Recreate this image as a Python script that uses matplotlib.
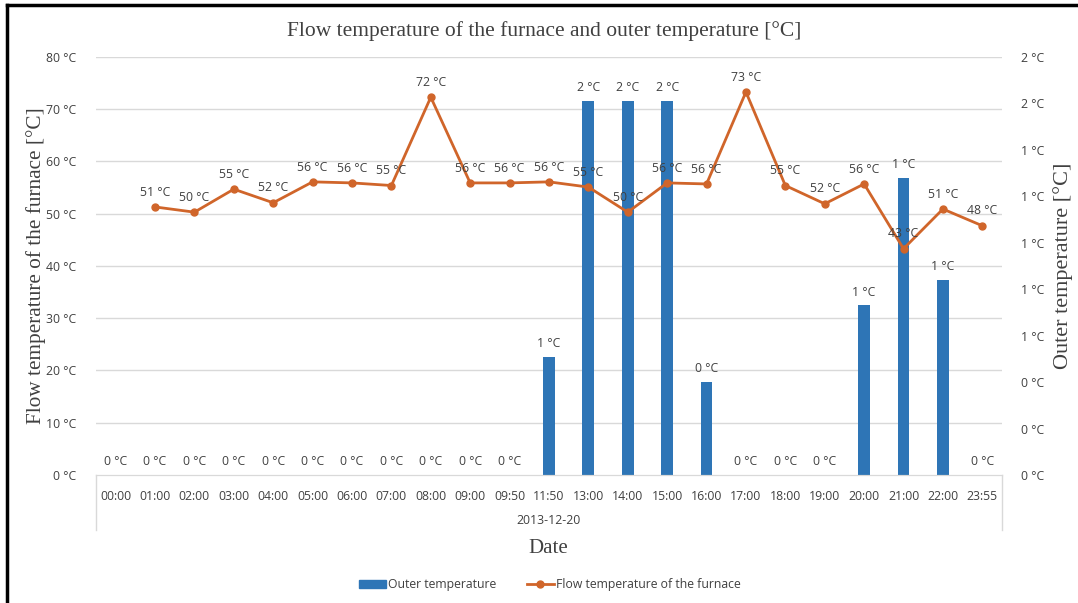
import math
import numpy as np
import matplotlib
matplotlib.use("Agg")
import matplotlib.pyplot as plt
from matplotlib.lines import Line2D
from matplotlib.ticker import FuncFormatter, MultipleLocator

times = ["00:00", "01:00", "02:00", "03:00", "04:00", "05:00", "06:00", "07:00",
         "08:00", "09:00", "09:50", "11:50", "13:00", "14:00", "15:00", "16:00",
         "17:00", "18:00", "19:00", "20:00", "21:00", "22:00", "23:55"]
date_label = "2013-12-20"
outer_temp = [0, 0, 0, 0, 0, 0, 0, 0, 0, 0, 0, 0.51, 1.61, 1.61, 1.61, 0.40,
              0, 0, 0, 0.73, 1.28, 0.84, 0]
flow_temp = [np.nan, 51.3, 50.3, 54.7, 52.1, 56.1, 55.9, 55.4, 72.3, 55.9, 55.9,
             56.1, 55.1, 50.3, 55.9, 55.7, 73.3, 55.4, 51.9, 55.7, 43.3, 50.9, 47.7]

blue = "#2E75B6"
orange = "#D0652A"
txt = "#404040"
tick_font = "Open Sans"
serif = "Liberation Serif"
fs = 8.8


def rnd(v):
    # Excel style rounding (half up)
    return int(math.floor(v + 0.5 + 1e-9))


fig = plt.figure(figsize=(10.78, 6.03), dpi=100)
ax_bar = fig.add_axes([0.089, 0.2123, 0.8405, 0.6932])
ax_line = ax_bar.twinx()
ax_line.set_zorder(ax_bar.get_zorder() + 1)
ax_line.patch.set_visible(False)

x = np.arange(len(times))
ax_bar.set_ylim(0, 1.8)
ax_bar.set_xlim(-0.5, len(times) - 0.5)
# gridlines follow the left axis (0..80 step 10) but sit behind the bars
for g in np.arange(10, 81, 10):
    ax_bar.axhline(g / 80 * 1.8, color="#D9D9D9", lw=1, zorder=0)
ax_bar.bar(x, outer_temp, width=0.3, color=blue, zorder=2)
ax_bar.yaxis.set_major_locator(MultipleLocator(0.2))
ax_bar.yaxis.set_major_formatter(FuncFormatter(lambda v, p: f"{rnd(v)} °C"))
ax_bar.yaxis.tick_right()
ax_bar.yaxis.set_label_position("right")

for xi, v in zip(x, outer_temp):
    ax_bar.annotate(f"{rnd(v)} °C", (xi, v), xytext=(0, 5), textcoords="offset points",
                    ha="center", va="bottom", fontsize=fs, color=txt, family=tick_font)

ax_line.plot(x, flow_temp, color=orange, lw=2, marker="o", ms=5)
ax_line.set_ylim(0, 80)
ax_line.yaxis.set_major_locator(MultipleLocator(10))
ax_line.yaxis.set_major_formatter(FuncFormatter(lambda v, p: f"{int(v)} °C"))
ax_line.yaxis.tick_left()
ax_line.yaxis.set_label_position("left")
for xi, v in zip(x, flow_temp):
    if np.isnan(v):
        continue
    ax_line.annotate(f"{rnd(v)} °C", (xi, v), xytext=(0, 6), textcoords="offset points",
                     ha="center", va="bottom", fontsize=fs, color=txt, family=tick_font)

for a in (ax_bar, ax_line):
    for s in ("top", "left", "right"):
        a.spines[s].set_visible(False)
    a.spines["bottom"].set_color("#D9D9D9")
    a.tick_params(axis="y", length=0, labelsize=fs, labelcolor=txt, pad=14)
    for lab in a.get_yticklabels():
        lab.set_family(tick_font)

ax_bar.set_xticks(x)
ax_bar.set_xticklabels(times, fontsize=fs, color=txt, family=tick_font)
ax_bar.tick_params(axis="x", length=0, pad=11)
ax_line.tick_params(axis="x", length=0)

# second level of the category axis
for xa in (0, 1):
    ax_bar.add_line(Line2D([xa, xa], [0, -0.132], transform=ax_bar.transAxes,
                           color="#D9D9D9", lw=1, clip_on=False))
ax_bar.text(0.5, -0.108, date_label, transform=ax_bar.transAxes, ha="center",
            va="center", fontsize=fs, color=txt, family=tick_font)

ax_line.set_ylabel("Flow temperature of the furnace [°C]", family=serif,
                   fontsize=15.3, color=txt, labelpad=0)
ax_bar.set_ylabel("Outer temperature [°C]", family=serif, fontsize=16,
                  color=txt, labelpad=6)
fig.text(0.509, 0.091, "Date", family=serif, fontsize=15, color=txt,
         ha="center", va="center")
fig.text(0.505, 0.949, "Flow temperature of the furnace and outer temperature [°C]",
         family=serif, fontsize=15.5, color=txt, ha="center", va="center")

handles = [plt.Rectangle((0, 0), 1, 1, color=blue),
           Line2D([], [], color=orange, lw=2, marker="o", ms=5)]
fig.legend(handles, ["Outer temperature", "Flow temperature of the furnace"],
           loc="center", bbox_to_anchor=(0.51, 0.03), ncol=2, frameon=False,
           prop={"family": tick_font, "size": fs}, labelcolor=txt,
           handlelength=2.2, handletextpad=0.2, columnspacing=2.5)

# border of the screenshot (left and top only)
fig.add_artist(Line2D([0.0065, 0.0065], [0, 0.991], transform=fig.transFigure,
                      color="black", lw=2.5))
fig.add_artist(Line2D([0.0065, 1], [0.991, 0.991], transform=fig.transFigure,
                      color="black", lw=2.5))

fig.savefig("out.png", dpi=100)
